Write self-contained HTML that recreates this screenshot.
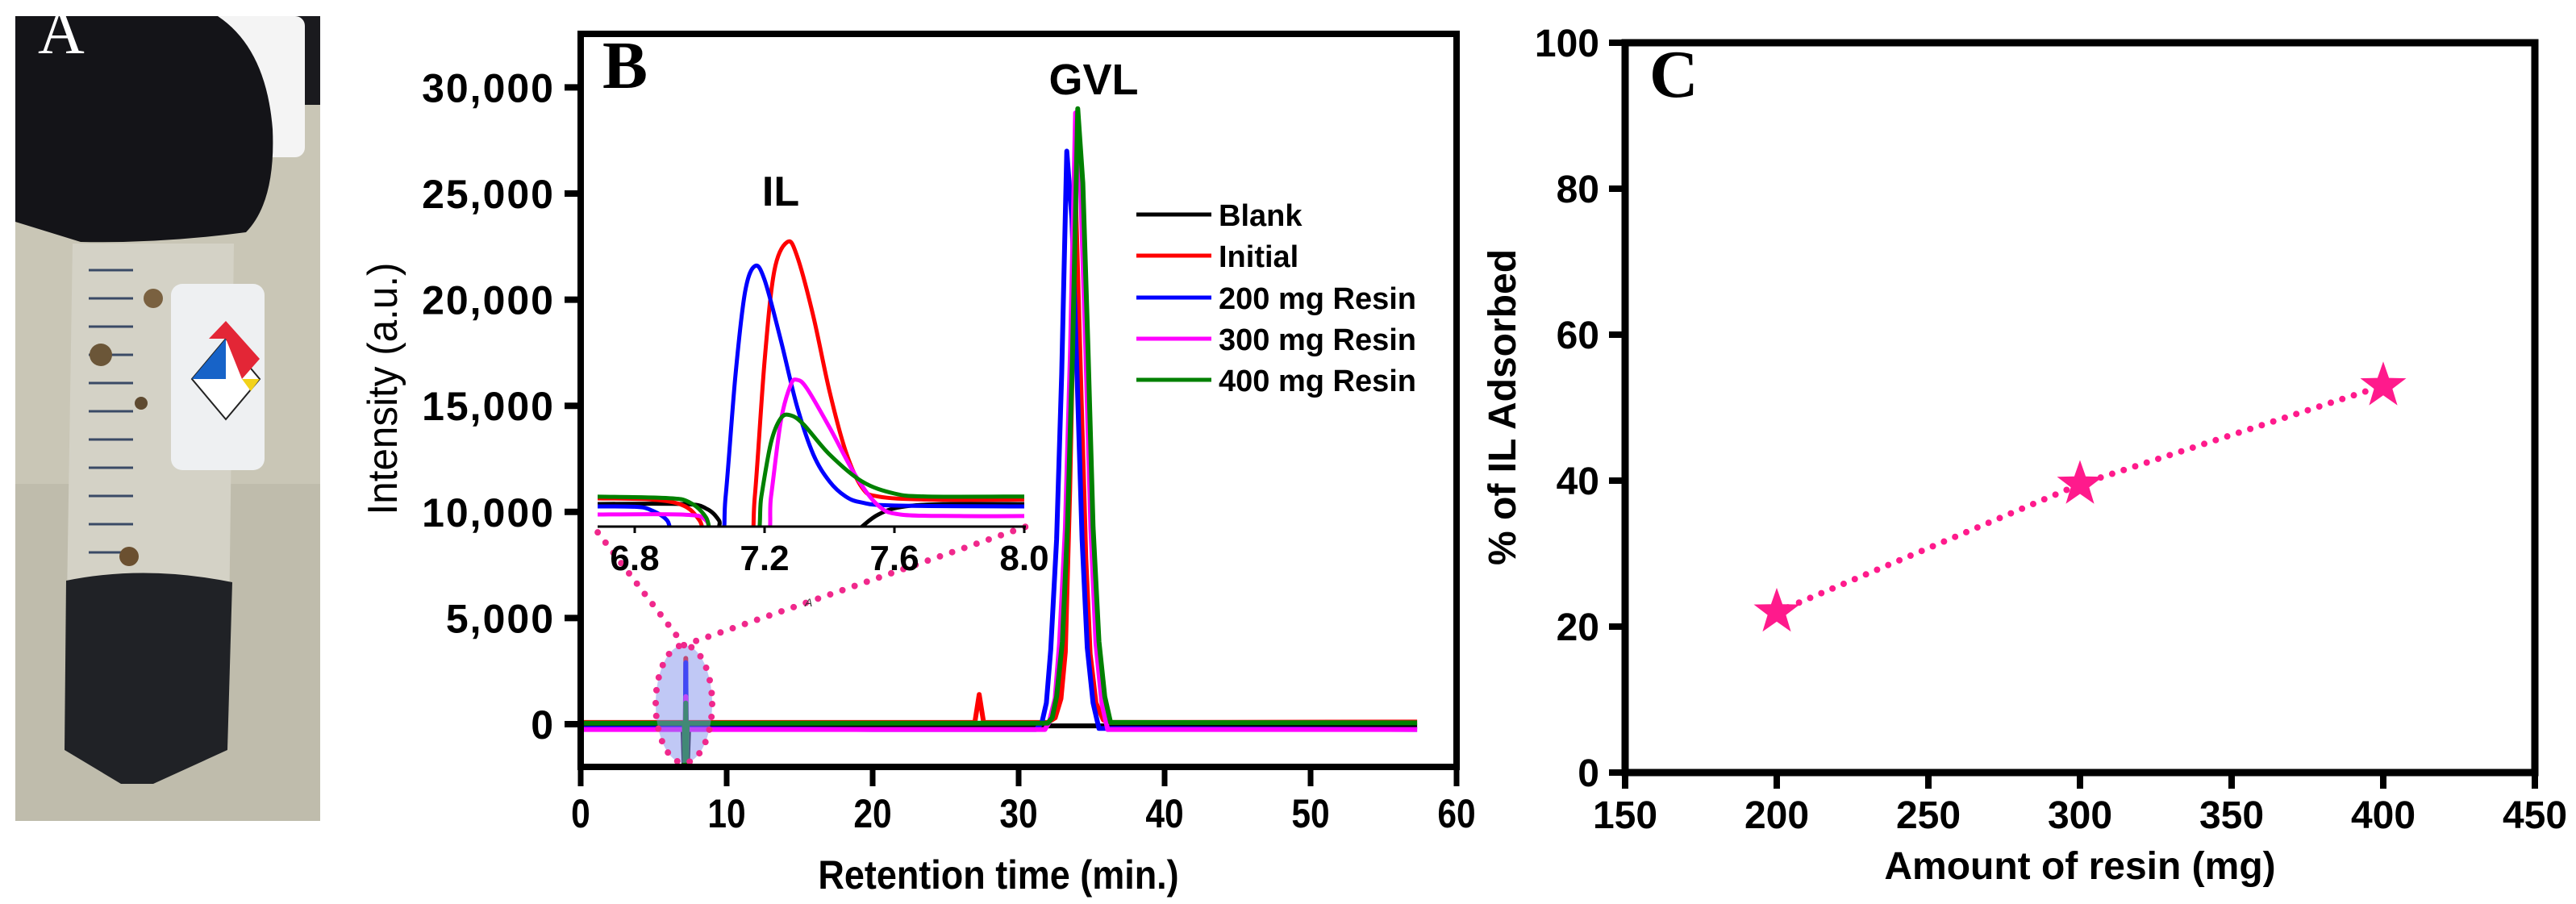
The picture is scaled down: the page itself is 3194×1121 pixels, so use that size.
<!DOCTYPE html>
<html><head><meta charset="utf-8"><style>
html,body{margin:0;padding:0;background:#fff;}
svg{display:block;font-family:"Liberation Sans",Arial,sans-serif;}
</style></head><body>
<svg id="fig" width="3194" height="1121" viewBox="0 0 3194 1121" xmlns="http://www.w3.org/2000/svg">
<defs>
  <clipPath id="mainClip"><rect x="722" y="44" width="1082" height="905"/></clipPath>
  <clipPath id="insetClip"><rect x="741" y="44" width="531" height="609"/></clipPath>
  <clipPath id="photoClip"><rect x="19" y="20" width="378" height="998"/></clipPath>
</defs>

<!-- Panel A photo -->
<g clip-path="url(#photoClip)">
  <rect x="19" y="20" width="378" height="998" fill="#c9c6b6"/>
  <rect x="19" y="600" width="378" height="418" fill="#bfbcac"/>
  <rect x="350" y="20" width="47" height="110" fill="#1a1a1e"/>
  <rect x="110" y="20" width="268" height="175" rx="12" fill="#f4f4f4"/>
  <path d="M19 20 L270 20 Q330 60 338 160 Q342 250 305 288 Q200 302 100 300 L19 275 Z" fill="#141418"/>
  <path d="M90 302 L290 302 L282 930 L190 972 L150 972 L80 930 Z" fill="#d4d2c6"/>
  <path d="M82 720 Q180 700 288 722 L282 930 L190 972 L150 972 L80 930 Z" fill="#202226"/>
  <g stroke="#3a4a66" stroke-width="3">
    <line x1="110" y1="335" x2="165" y2="335"/><line x1="110" y1="370" x2="165" y2="370"/><line x1="110" y1="405" x2="165" y2="405"/>
    <line x1="110" y1="440" x2="165" y2="440"/><line x1="110" y1="475" x2="165" y2="475"/><line x1="110" y1="510" x2="165" y2="510"/>
    <line x1="110" y1="545" x2="165" y2="545"/><line x1="110" y1="580" x2="165" y2="580"/><line x1="110" y1="615" x2="165" y2="615"/>
    <line x1="110" y1="650" x2="165" y2="650"/><line x1="110" y1="685" x2="165" y2="685"/>
  </g>
  <circle cx="125" cy="440" r="14" fill="#6b5638"/><circle cx="190" cy="370" r="12" fill="#7a6140"/><circle cx="175" cy="500" r="8" fill="#5e4a30"/><circle cx="160" cy="690" r="12" fill="#6b5030"/>
  <rect x="212" y="352" width="116" height="231" rx="14" fill="#eef0f2"/>
  <polygon points="238,470 280,420 322,470 280,520" fill="#fff" stroke="#222" stroke-width="2"/>
  <polygon points="238,470 280,420 280,470" fill="#1763c8"/>
  <polygon points="259,420 280,398 322,445 300,470 280,420" fill="#e32636"/>
  <polygon points="300,470 322,470 311,485" fill="#f2d21a"/>
  <text x="47" y="66" font-family="Liberation Serif,serif" font-size="80" fill="#fff">A</text>
</g>

<!-- Panel B -->
<g id="panelB"></g>
<!-- Panel C -->
<g id="panelC"></g>
</svg>
<script>
// ===== Panel B data =====
const bSeriesNames = ["Blank", "Initial", "200 mg Resin", "300 mg Resin", "400 mg Resin"];
const bColors = ["#000000", "#ff0000", "#0000ff", "#ff00ff", "#008000"];
const bXTicks = [0, 10, 20, 30, 40, 50, 60];
const bYTicks = [0, 5000, 10000, 15000, 20000, 25000, 30000];
const bYTickLabels = ["0", "5,000", "10,000", "15,000", "20,000", "25,000", "30,000"];
const blankT = [0, 7.0, 7.1, 7.3, 7.4, 20, 32, 36, 57.3];
const blankV = [-60, -60, -2200, -2200, -60, -80, -80, -80, -100];
const initialT = [0, 7.1, 7.15, 7.2, 7.25, 7.3, 20, 27.0, 27.3, 27.6, 32.0, 32.5, 32.9, 33.2, 33.5, 33.9, 34.3, 34.6, 34.9, 35.3, 35.8, 36.2, 57.3];
const initialV = [80, 80, -2100, 3100, -2100, 80, 80, 80, 1400, 80, 80, 300, 1200, 3400, 11000, 24700, 15000, 7800, 3300, 1000, 200, 80, 100];
const r200T = [0, 7.1, 7.15, 7.2, 7.25, 7.3, 20, 31.2, 31.6, 31.9, 32.2, 32.6, 32.95, 33.3, 33.65, 34.0, 34.35, 34.7, 35.1, 35.5, 57.3];
const r200V = [-200, -200, -2100, 2900, -2100, -200, -250, -250, 100, 1000, 3500, 8700, 16500, 27000, 23800, 16500, 8700, 3600, 1000, -200, -250];
const r300T = [0, 7.1, 7.15, 7.2, 7.25, 7.3, 20, 31.8, 32.1, 32.5, 32.8, 33.2, 33.55, 33.9, 34.25, 34.6, 34.95, 35.3, 35.7, 36.1, 57.3];
const r300V = [-250, -250, -2100, 1300, -2100, -250, -250, -250, 100, 1200, 3800, 9200, 17600, 28800, 25300, 17600, 9200, 3800, 1000, -250, -250];
const r400T = [0, 7.1, 7.15, 7.2, 7.25, 7.3, 20, 32.0, 32.3, 32.6, 33.0, 33.35, 33.7, 34.05, 34.4, 34.75, 35.1, 35.5, 35.9, 36.3, 57.3];
const r400V = [50, 50, -2100, 1000, -2100, 50, 50, 50, 300, 1300, 3900, 9300, 17700, 29000, 25500, 17700, 9300, 3900, 1300, 80, 60];
const bSeriesT = [blankT, initialT, r200T, r300T, r400T];
const bSeriesV = [blankV, initialV, r200V, r300V, r400V];
// inset data (zoomed 6.66–8.0 min, relative intensity)
const insetTicks = [6.8, 7.2, 7.6, 8.0];
const inBlankT = [6.66, 6.95, 7.02, 7.06, 7.09, 7.45, 7.5, 7.55, 7.62, 7.75, 8.0];
const inBlankU = [0.075, 0.075, 0.06, 0.02, -0.05, -0.05, 0.0, 0.04, 0.065, 0.075, 0.075];
const inRedT = [6.66, 6.85, 6.95, 7.0, 7.03, 7.15, 7.17, 7.2, 7.23, 7.27, 7.3, 7.35, 7.4, 7.45, 7.5, 7.55, 7.7, 8.0];
const inRedU = [0.094, 0.09, 0.07, 0.02, -0.05, -0.05, 0.1, 0.55, 0.85, 0.946, 0.9, 0.7, 0.45, 0.25, 0.13, 0.1, 0.09, 0.09];
const inBlueT = [6.66, 6.8, 6.85, 6.9, 6.93, 7.06, 7.08, 7.11, 7.14, 7.17, 7.2, 7.25, 7.3, 7.35, 7.4, 7.45, 7.5, 7.6, 8.0];
const inBlueU = [0.067, 0.066, 0.055, 0.02, -0.05, -0.05, 0.1, 0.5, 0.78, 0.866, 0.82, 0.62, 0.4, 0.24, 0.15, 0.1, 0.08, 0.07, 0.067];
const inMagT = [6.66, 6.95, 7.02, 7.05, 7.2, 7.22, 7.25, 7.28, 7.3, 7.33, 7.4, 7.48, 7.55, 7.62, 7.8, 8.0];
const inMagU = [0.04, 0.04, 0.02, -0.05, -0.05, 0.1, 0.35, 0.47, 0.488, 0.46, 0.33, 0.17, 0.07, 0.04, 0.035, 0.035];
const inGreenT = [6.66, 6.9, 6.97, 7.02, 7.05, 7.17, 7.19, 7.22, 7.25, 7.28, 7.32, 7.4, 7.5, 7.6, 7.7, 8.0];
const inGreenU = [0.1, 0.095, 0.08, 0.03, -0.05, -0.05, 0.1, 0.28, 0.36, 0.37, 0.34, 0.24, 0.15, 0.11, 0.1, 0.1];
const inSeriesT = [inBlankT, inRedT, inBlueT, inMagT, inGreenT];
const inSeriesU = [inBlankU, inRedU, inBlueU, inMagU, inGreenU];

// ===== Panel C data =====
const cResin = [200, 300, 400];
const cAdsorbed = [22, 39.5, 53];
const cXTicks = [150, 200, 250, 300, 350, 400, 450];
const cYTicks = [0, 20, 40, 60, 80, 100];

const NS = "http://www.w3.org/2000/svg";
function mk(parent, tag, attrs, text) {
  const e = document.createElementNS(NS, tag);
  for (const k in attrs) e.setAttribute(k, attrs[k]);
  if (text !== undefined) e.textContent = text;
  parent.appendChild(e);
  return e;
}

// axis functions
const bx = t => 720 + t * 18.1;
const by = v => 898 - v * 0.02632;
const ix = t => 948 + (t - 7.2) * 402.5;
const iy = u => 653 - u * 373;
const cx = r => 2015 + (r - 150) * 3.76;
const cy = p => 958 - p * 9.05;

function smoothPath(xs, ys) {
  let d = "M" + xs[0].toFixed(1) + " " + ys[0].toFixed(1);
  for (let i = 0; i < xs.length - 1; i++) {
    const x0 = xs[Math.max(i - 1, 0)], y0 = ys[Math.max(i - 1, 0)];
    const x1 = xs[i], y1 = ys[i], x2 = xs[i + 1], y2 = ys[i + 1];
    const x3 = xs[Math.min(i + 2, xs.length - 1)], y3 = ys[Math.min(i + 2, xs.length - 1)];
    const c1x = x1 + (x2 - x0) / 6, c1y = y1 + (y2 - y0) / 6;
    const c2x = x2 - (x3 - x1) / 6, c2y = y2 - (y3 - y1) / 6;
    d += " C" + c1x.toFixed(1) + " " + c1y.toFixed(1) + " " + c2x.toFixed(1) + " " + c2y.toFixed(1) + " " + x2.toFixed(1) + " " + y2.toFixed(1);
  }
  return d;
}

// ---------- Panel B ----------
const B = document.getElementById("panelB");
const mainG = mk(B, "g", {"clip-path": "url(#mainClip)"});


for (let s = 0; s < bSeriesT.length; s++) {
  const pts = bSeriesT[s].map((t, i) => bx(t).toFixed(1) + "," + by(bSeriesV[s][i]).toFixed(1)).join(" ");
  const pl = mk(mainG, "polyline", {points: pts, fill: "none", stroke: bColors[s], "stroke-width": 6, "stroke-linejoin": "round"});
  
  
}
const ell = mk(B, "ellipse", {cx: 848, cy: 873, rx: 35, ry: 73, fill: "rgba(130,145,235,0.5)", stroke: "#f0288c", "stroke-width": 8, "stroke-dasharray": "0 16", "stroke-linecap": "round"});


const z1 = mk(B, "line", {x1: 848, y1: 800, x2: 741, y2: 660, stroke: "#f0288c", "stroke-width": 8, "stroke-dasharray": "0 16", "stroke-linecap": "round"});


const z2 = mk(B, "line", {x1: 848, y1: 800, x2: 1272, y2: 653, stroke: "#f0288c", "stroke-width": 8, "stroke-dasharray": "0 16", "stroke-linecap": "round"});


const tinyA = mk(B, "text", {x: 998, y: 752, "font-size": 14, "font-style": "italic", fill: "#333"}, "A");



const insG = mk(B, "g", {"clip-path": "url(#insetClip)"});


for (let s = 0; s < inSeriesT.length; s++) {
  const p = mk(insG, "path", {d: smoothPath(inSeriesT[s].map(ix), inSeriesU[s].map(iy)), fill: "none", stroke: bColors[s], "stroke-width": 5, "stroke-linejoin": "round"});
  
  
}
const inAx = mk(B, "line", {x1: 741, y1: 653, x2: 1272, y2: 653, stroke: "#000", "stroke-width": 3});


for (const t of insetTicks) {
  const tk = mk(B, "line", {x1: ix(t), y1: 653, x2: ix(t), y2: 661, stroke: "#000", "stroke-width": 3});
  
  
  const tl = mk(B, "text", {x: ix(t), y: 707, "font-size": 44, "font-weight": "bold", "text-anchor": "middle"}, t.toFixed(1));
  
  
}
const ilT = mk(B, "text", {x: 968, y: 255, "font-size": 52, "font-weight": "bold", "text-anchor": "middle"}, "IL");


const gvlT = mk(B, "text", {x: 1356, y: 117, "font-size": 54, "font-weight": "bold", "text-anchor": "middle"}, "GVL");



const frame = mk(B, "rect", {x: 720, y: 42, width: 1086, height: 909, fill: "none", stroke: "#000", "stroke-width": 8});


bYTicks.forEach((v, i) => {
  const tk = mk(B, "line", {x1: 700, y1: by(v), x2: 720, y2: by(v), stroke: "#000", "stroke-width": 8});
  
  
  const tl = mk(B, "text", {x: 688, y: by(v) + 18, "font-size": 50, "font-weight": "bold", "text-anchor": "end", "letter-spacing": "2"}, bYTickLabels[i]);
  
  
});
bXTicks.forEach(t => {
  const tk = mk(B, "line", {x1: bx(t), y1: 951, x2: bx(t), y2: 975, stroke: "#000", "stroke-width": 7});
  
  
  const tl = mk(B, "text", {x: bx(t), y: 1026, "font-size": 50, "font-weight": "bold", "text-anchor": "middle", transform: "translate(" + bx(t) + ",0) scale(0.85,1) translate(" + (-bx(t)) + ",0)"}, String(t));
  
  
});
const bxTitle = mk(B, "text", {x: 1238, y: 1102, "font-size": 50, "font-weight": "bold", "text-anchor": "middle", transform: "translate(1238,0) scale(0.9,1) translate(-1238,0)"}, "Retention time (min.)");


const byTitle = mk(B, "text", {x: 0, y: 0, "font-size": 52, "text-anchor": "middle", transform: "translate(492,482) rotate(-90) scale(0.95,1)"}, "Intensity (a.u.)");


const bLab = mk(B, "text", {x: 747, y: 109, "font-size": 84, "font-weight": "bold", "font-family": "Liberation Serif,serif"}, "B");



const leg = mk(B, "g", {});


const legY = [266, 317, 369, 420, 471];
bSeriesNames.forEach((n, i) => {
  const ln = mk(leg, "line", {x1: 1409, y1: legY[i], x2: 1502, y2: legY[i], stroke: bColors[i], "stroke-width": 5});
  
  
  const tx = mk(leg, "text", {x: 1511, y: legY[i] + 14, "font-size": 38, "font-weight": "bold"}, n);
  
  
});

// ---------- Panel C ----------
const C = document.getElementById("panelC");
const pts = cResin.map((r, i) => cx(r).toFixed(1) + "," + cy(cAdsorbed[i]).toFixed(1)).join(" ");
const cl = mk(C, "polyline", {points: pts, fill: "none", stroke: "#ff1a8c", "stroke-width": 8, "stroke-dasharray": "0 15", "stroke-linecap": "round"});


function starPts(x, y, R, r) {
  const a = [];
  for (let k = 0; k < 10; k++) {
    const ang = -Math.PI / 2 + k * Math.PI / 5;
    const rad = k % 2 === 0 ? R : r;
    a.push((x + rad * Math.cos(ang)).toFixed(1) + "," + (y + rad * Math.sin(ang)).toFixed(1));
  }
  return a.join(" ");
}
cResin.forEach((r, i) => {
  const st = mk(C, "polygon", {points: starPts(cx(r), cy(cAdsorbed[i]), 30, 12), fill: "#ff1a8c"});
  
  
});
const cf = mk(C, "rect", {x: 2015, y: 53, width: 1128, height: 905, fill: "none", stroke: "#000", "stroke-width": 9});


cYTicks.forEach(p => {
  const tk = mk(C, "line", {x1: 1995, y1: cy(p), x2: 2015, y2: cy(p), stroke: "#000", "stroke-width": 8});
  
  
  const tl = mk(C, "text", {x: 1983, y: cy(p) + 17, "font-size": 48, "font-weight": "bold", "text-anchor": "end"}, String(p));
  
  
});
cXTicks.forEach(r => {
  const tk = mk(C, "line", {x1: cx(r), y1: 958, x2: cx(r), y2: 978, stroke: "#000", "stroke-width": 8});
  
  
  const tl = mk(C, "text", {x: cx(r), y: 1027, "font-size": 48, "font-weight": "bold", "text-anchor": "middle"}, String(r));
  
  
});
const cxT = mk(C, "text", {x: 2579, y: 1090, "font-size": 48, "font-weight": "bold", "text-anchor": "middle"}, "Amount of resin (mg)");


const cyT = mk(C, "text", {x: 0, y: 0, "font-size": 48, "font-weight": "bold", "text-anchor": "middle", transform: "translate(1879,505) rotate(-90)"}, "% of IL Adsorbed");


const cLab = mk(C, "text", {x: 2045, y: 120, "font-size": 84, "font-weight": "bold", "font-family": "Liberation Serif,serif"}, "C");


</script>
</body></html>
